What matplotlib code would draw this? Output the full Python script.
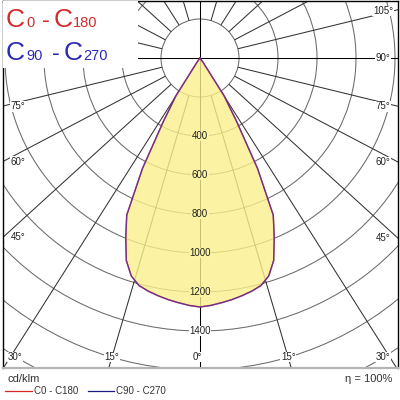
import numpy as np
import matplotlib
matplotlib.use("Agg")
import matplotlib.pyplot as plt
from matplotlib.patches import Rectangle, Circle, Polygon
from matplotlib.lines import Line2D

# ---------------- data ----------------
gamma = [0, 2.5, 5, 7.5, 10, 12.5, 15, 17.5, 20, 22.5, 25, 27.5, 30, 32.5, 35, 37.5,
         40, 45, 50, 55, 60, 65, 70, 75, 80, 85, 90]
i_c0 = [1277, 1270, 1260, 1250, 1238, 1225, 1208, 1172, 1105, 995, 889, 640, 375, 230, 30, 0,
        0, 0, 0, 0, 0, 0, 0, 0, 0, 0, 0]
i_c180 = [1277, 1270, 1260, 1250, 1238, 1225, 1208, 1172, 1105, 995, 889, 640, 375, 230, 30, 0,
          0, 0, 0, 0, 0, 0, 0, 0, 0, 0, 0]
i_c90 = [1277, 1270, 1260, 1250, 1238, 1225, 1208, 1172, 1105, 995, 889, 640, 375, 230, 30, 0,
         0, 0, 0, 0, 0, 0, 0, 0, 0, 0, 0]
i_c270 = [1277, 1270, 1260, 1250, 1238, 1225, 1208, 1172, 1105, 995, 889, 640, 375, 230, 30, 0,
          0, 0, 0, 0, 0, 0, 0, 0, 0, 0, 0]
ring_values = [200, 400, 600, 800, 1000, 1200, 1400, 1600, 1800, 2000]
ring_labels = [400, 600, 800, 1000, 1200, 1400]
radial_angles = list(range(0, 360, 15))
angle_labels_right = [0, 15, 30, 45, 60, 75, 90, 105]
angle_labels_left = [15, 30, 45, 60, 75]
legend_names = ["C0 - C180", "C90 - C270"]
unit_label = "cd/klm"
eta_label = "\u03b7 = 100%"

# ---------------- styling ----------------
plt.rcParams["font.family"] = ["Liberation Sans", "DejaVu Sans"]
RED = "#d42a2a"
BLUE = "#2a2ab4"
FILL = "#fbf18c"
RING = "#6a6a6a"
RAD = "#333333"
K = 0.91          # vertical compression of the radial grid lines
PX = 0.195        # pixels per cd
CPX = 1.0 / PX    # cd per pixel

fig = plt.figure(figsize=(4, 4), dpi=100)
fig.patch.set_facecolor("white")
# frame from x=3..398 px, y=1..368 px, centre at (200, 58) px
ax = fig.add_axes([3 / 400, (400 - 368) / 400, 395 / 400, 367 / 400])
xmin, xmax = (3 - 200) * CPX, (398 - 200) * CPX
ymin, ymax = -(368 - 58) * CPX, (58 - 1) * CPX
ax.set_xlim(xmin, xmax)
ax.set_ylim(ymin, ymax)
ax.set_aspect("equal")
ax.set_xticks([])
ax.set_yticks([])
for s in ("left", "top", "right"):
    ax.spines[s].set_color("black")
    ax.spines[s].set_linewidth(1.0)
ax.spines["bottom"].set_color("#b4b4b4")
ax.spines["bottom"].set_linewidth(1.6)

# rings
for v in ring_values:
    ax.add_patch(Circle((0, 0), v, fill=False, ec=RING, lw=0.75, zorder=1))

# radial lines
def direction(phi):
    d = np.array([np.sin(np.radians(phi)), -K * np.cos(np.radians(phi))])
    return d / np.hypot(*d)

for a in radial_angles:
    d = direction(a)
    r0 = 0 if a % 90 == 0 else ring_values[0]
    col = "black" if a % 90 == 0 else RAD
    ax.plot([r0 * d[0], 4000 * d[0]], [r0 * d[1], 4000 * d[1]], color=col, lw=0.75,
            zorder=1, solid_capstyle="butt")

# light distribution curves
g = np.radians(np.array(gamma, dtype=float))
def outline(right_vals, left_vals):
    rv = np.array(right_vals, dtype=float)
    lv = np.array(left_vals, dtype=float)
    xr, yr = rv * np.sin(g), -rv * np.cos(g)
    xl, yl = -lv * np.sin(g), -lv * np.cos(g)
    xs = np.concatenate([xl[::-1], xr[1:]])
    ys = np.concatenate([yl[::-1], yr[1:]])
    return xs, ys

x1, y1 = outline(i_c0, i_c180)
x2, y2 = outline(i_c90, i_c270)
ax.add_patch(Polygon(np.column_stack([x1, y1]), closed=True, fc=FILL, ec="none",
                     alpha=0.8, zorder=2))
ax.plot(x1, y1, color="#cc2222", lw=1.0, zorder=3)
ax.plot(x2, y2, color="#3535cc", lw=1.0, alpha=0.6, zorder=3)

# ring labels
for v in ring_labels:
    inside = v < max(i_c0[0], i_c90[0])
    ax.text(0, -v, str(v), ha="center", va="center", fontsize=7, color="#222222",
            zorder=4, bbox=dict(boxstyle="square,pad=0.05",
                                fc="#fcf4a3" if inside else "white", ec="none"))

# angle labels
def angle_label(phi, side):
    d = direction(phi)
    d[0] *= side
    edge = xmax if side > 0 else xmin
    t_side = edge / d[0]
    t_bot = ymin / d[1] if d[1] < 0 else np.inf
    if t_side <= t_bot:
        px = edge - side * 15 * CPX
        py = min(max(t_side * d[1], ymin + 11 * CPX), ymax - 10 * CPX)
    else:
        xi = t_bot * d[0]
        px = xi - side * 3 * CPX
        lim = (198 - 15) * CPX
        px = max(min(px, lim), (3 - 200 + 12) * CPX)
        py = ymin + 11 * CPX
    ax.text(px, py, f"{phi}\u00b0", ha="center", va="center", fontsize=7,
            color="#222222", zorder=4,
            bbox=dict(boxstyle="square,pad=0.05", fc="white", ec="none"))

for a in angle_labels_right:
    angle_label(a, 1)
for a in angle_labels_left:
    angle_label(a, -1)

# title box
ax.add_patch(Rectangle((xmin, -(68 - 58) * CPX), (138 - 3) * CPX, ymax + (68 - 58) * CPX,
                       fc="white", ec="none", zorder=5))

def ftxt(x, y, s, size, color, va="baseline"):
    fig.text(x / 400, 1 - y / 400, s, fontsize=size, color=color, ha="left", va=va,
             zorder=6)

ftxt(6, 27, "C", 19, RED)
ftxt(26, 27, "0", 10.5, RED)
ftxt(42, 27, "-", 17, RED)
ftxt(54, 27, "C", 19, RED)
ftxt(73, 27, "180", 10.5, RED)

ftxt(6, 60, "C", 19, BLUE)
ftxt(26, 60, "90", 10.5, BLUE)
ftxt(52, 60, "-", 17, BLUE)
ftxt(64, 60, "C", 19, BLUE)
ftxt(83, 60, "270", 10.5, BLUE)

# bottom legend
ftxt(8, 379, unit_label, 8, "#333333", va="center")
fig.text(392 / 400, 1 - 379 / 400, eta_label, fontsize=8, color="#333333",
         ha="right", va="center")
for (x0, x1_, tx, col, name) in [(5, 32, 34, RED, legend_names[0]),
                                 (88, 114, 116, "#1a1a80", legend_names[1])]:
    fig.add_artist(Line2D([x0 / 400, x1_ / 400], [1 - 391 / 400] * 2, color=col,
                          lw=0.9, transform=fig.transFigure))
    ftxt(tx, 391, name, 7, "#333333", va="center")

fig.savefig("out.png", dpi=100, facecolor="white")
